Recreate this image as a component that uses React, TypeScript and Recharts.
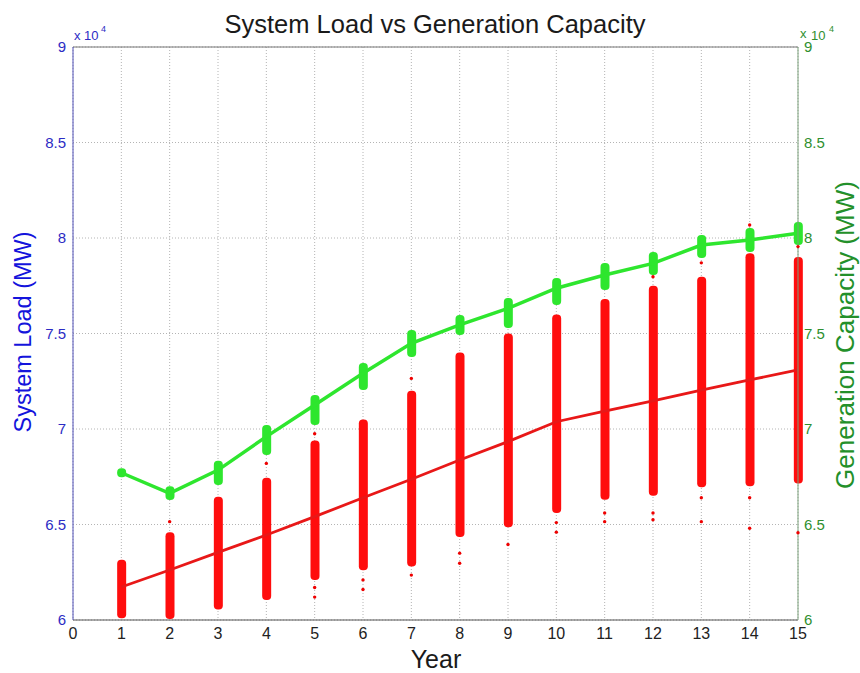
import React from "react";
import {
  ComposedChart,
  Bar,
  Line,
  Scatter,
  XAxis,
  YAxis,
  CartesianGrid,
  ReferenceLine,
} from "recharts";

// values (MW)
const years = [1, 2, 3, 4, 5, 6, 7, 8, 9, 10, 11, 12, 13, 14, 15];
const loadMean = [61730, 62620, 63540, 64450, 65410, 66400, 67370, 68380, 69340, 70380, 70940, 71470, 72040, 72570, 73090];
const loadLow = [60090, 60050, 60550, 61050, 62100, 62600, 62800, 64350, 64850, 65600, 66300, 66500, 66950, 67000, 67150];
const loadHigh = [63150, 64600, 66450, 67450, 69400, 70500, 72000, 74000, 75000, 76000, 76800, 77500, 77970, 79200, 79000];
const genCap = [67710, 66630, 67850, 69600, 71260, 72920, 74490, 75450, 76320, 77370, 78060, 78670, 79630, 79900, 80250];
const genLow = [67470, 66280, 67070, 68640, 70210, 72040, 73770, 74920, 75290, 76490, 77280, 78060, 78950, 79270, 79630];
const genHigh = [67950, 67000, 68340, 70210, 71780, 73460, 75180, 75970, 76860, 77900, 78690, 79270, 80160, 80520, 80840];

// stray load samples outside the dense clouds
const outlierYears = [2, 4, 5, 5, 5, 6, 6, 7, 7, 8, 8, 9, 10, 10, 11, 11, 12, 12, 12, 13, 13, 13, 14, 14, 14, 15, 15];
const outlierLoads = [65150, 68200, 61200, 61700, 69750, 62100, 61600, 62350, 72650, 63500, 62970, 63950, 65100, 64600, 65600, 65150, 65600, 65250, 77970, 66400, 65150, 78700, 66400, 64800, 80680, 64570, 79550];

const xTicks = [0, 1, 2, 3, 4, 5, 6, 7, 8, 9, 10, 11, 12, 13, 14, 15];
const yTicks = [60000, 65000, 70000, 75000, 80000, 85000, 90000];

const rows = years.map((y, i) => ({
  year: y,
  load: loadMean[i],
  gen: genCap[i],
  loadRange: [loadLow[i], loadHigh[i]],
  genRange: [genLow[i], genHigh[i]],
}));
const outliers = outlierYears.map((y, i) => ({ year: y, value: outlierLoads[i] }));

const FONT = "'Liberation Sans', Arial, Helvetica, sans-serif";
const RED = "#ff0d0d";
const GREEN = "#2ee62e";
const BLUE_TXT = "#2c2cc4";
const GREEN_TXT = "#2f8f2f";

const fmt = (v: number) => String(v / 10000);

export default function App() {
  return (
    <div style={{ position: "absolute", left: 0, top: 0, width: 860, height: 673, background: "#fff", fontFamily: FONT }}>
      <ComposedChart
        width={860}
        height={673}
        data={rows}
        margin={{ top: 47, right: 22, bottom: 23, left: 33 }}
        barGap={-9}
      >
        <CartesianGrid yAxisId="left" stroke="#b4b4b4" strokeDasharray="1 2" />
        <XAxis
          dataKey="year"
          type="number"
          domain={[0, 15]}
          ticks={xTicks}
          interval={0}
          height={30}
          tickLine={false}
          tickSize={0}
          tickMargin={8}
          axisLine={{ stroke: "#555" }}
          tick={{ fill: "#222", fontSize: 16 }}
        />
        <YAxis
          yAxisId="left"
          domain={[60000, 90000]}
          ticks={yTicks}
          interval={0}
          width={40}
          tickLine={false}
          tickSize={0}
          tickMargin={7}
          tickFormatter={fmt}
          axisLine={{ stroke: "#5050b8" }}
          tick={{ fill: BLUE_TXT, fontSize: 15 }}
          allowDataOverflow
        />
        <YAxis
          yAxisId="right"
          orientation="right"
          domain={[60000, 90000]}
          ticks={yTicks}
          interval={0}
          width={40}
          tickLine={false}
          tickSize={0}
          tickMargin={6}
          tickFormatter={fmt}
          axisLine={{ stroke: "#7aa07a" }}
          tick={{ fill: GREEN_TXT, fontSize: 15 }}
          allowDataOverflow
        />
        <ReferenceLine yAxisId="left" y={90000} stroke="#777" />
        <Bar yAxisId="left" dataKey="loadRange" fill={RED} barSize={9} radius={4} isAnimationActive={false} />
        <Bar yAxisId="left" dataKey="genRange" fill={GREEN} barSize={9} radius={4} isAnimationActive={false} />
        <Line
          yAxisId="left"
          dataKey="load"
          stroke="#e81818"
          strokeWidth={2.8}
          dot={false}
          isAnimationActive={false}
        />
        <Line
          yAxisId="left"
          dataKey="gen"
          stroke={GREEN}
          strokeWidth={3.5}
          dot={false}
          isAnimationActive={false}
        />
        <Scatter
          yAxisId="left"
          data={outliers}
          dataKey="value"
          isAnimationActive={false}
          shape={(p: any) => <circle cx={p.cx} cy={p.cy} r={1.7} fill="#e00" />}
        />
      </ComposedChart>
      <svg
        width={860}
        height={673}
        style={{ position: "absolute", left: 0, top: 0, pointerEvents: "none", fontFamily: FONT }}
      >
        <text x={435} y={33} textAnchor="middle" fontSize={25.5} fill="#1a1a1a">
          System Load vs Generation Capacity
        </text>
        <text x={436} y={668} textAnchor="middle" fontSize={25} fill="#1a1a1a">
          Year
        </text>
        <text transform="translate(31,332) rotate(-90)" textAnchor="middle" fontSize={23.5} fill="#1414dc">
          System Load (MW)
        </text>
        <text transform="translate(854,335) rotate(-90)" textAnchor="middle" fontSize={26} fill="#23902a">
          Generation Capacity (MW)
        </text>
        <text x={74} y={40} fontSize={13} fill={BLUE_TXT}>x 10</text>
        <text x={101} y={32} fontSize={9} fill={BLUE_TXT}>4</text>
        <text x={800} y={38} fontSize={13} fill={GREEN_TXT}>x</text>
        <text x={811} y={40} fontSize={13} fill={GREEN_TXT}>10</text>
        <text x={829} y={32} fontSize={9} fill={GREEN_TXT}>4</text>
      </svg>
    </div>
  );
}
